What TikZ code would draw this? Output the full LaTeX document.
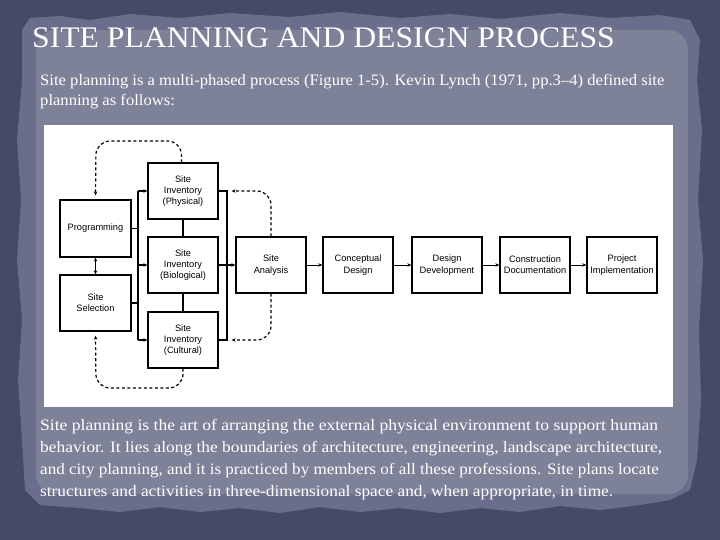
\documentclass[tikz,border=0pt]{standalone}
\usepackage{fontspec}
\setmainfont{Liberation Serif}
\newfontfamily\boxfont{Liberation Sans}
\usetikzlibrary{arrows.meta}
\definecolor{outerblue}{HTML}{454A69}
\definecolor{paperedge}{HTML}{6A6E8C}
\definecolor{paper}{HTML}{7E8299}
\tikzset{
  procbox/.style={draw=black, line width=1.3bp, fill=white, minimum width=70bp, minimum height=56bp,
    inner sep=1bp, align=center, font=\boxfont\fontsize{9.3}{11.3}\selectfont},
  solidcon/.style={line width=1.2bp},
  arr/.style={-{Stealth[length=4bp,width=3.5bp]}},
  thinarr/.style={line width=0.8bp, -{Stealth[length=4bp,width=3.5bp]}},
  dashcon/.style={line width=1.2bp, dash pattern=on 3bp off 2.5bp, rounded corners=14bp},
  titletext/.style={anchor=base west, inner sep=0, text=white, font=\fontsize{30}{30}\selectfont},
  bodytext/.style={anchor=base west, inner sep=0, text=white, font=\fontsize{16}{18}\selectfont},
}
\begin{document}
\begin{tikzpicture}[x=1bp, y=-1bp]
\useasboundingbox (0,0) rectangle (720,540);
% background
\fill[outerblue] (0,0) rectangle (720,540);
\fill[paperedge] (22,30) -- (30,18) -- (60,16) -- (90,20) -- (130,14) -- (180,18) -- (230,13) -- (290,17) -- (340,12) -- (400,18) -- (450,14) -- (500,19) -- (560,13) -- (610,18) -- (660,15) -- (690,20) -- (700,40) -- (697,80) -- (702,130) -- (698,200) -- (703,260) -- (699,330) -- (701,400) -- (697,460) -- (690,490) -- (670,500) -- (640,505) -- (600,510) -- (560,506) -- (520,512) -- (480,508) -- (440,513) -- (400,508) -- (360,512) -- (320,507) -- (280,513) -- (240,508) -- (200,512) -- (160,507) -- (120,512) -- (80,508) -- (40,505) -- (25,490) -- (22,440) -- (18,380) -- (22,320) -- (17,260) -- (21,200) -- (17,140) -- (22,80) -- cycle;
\fill[paper, rounded corners=20bp] (36,30) rectangle (688,494);
% title and text
\node[titletext] (title) at (32,48) {\scalebox{1.06}[1]{SITE PLANNING AND DESIGN PROCESS}};
\node[bodytext] (p1a) at (40,86) {\scalebox{1.042}[1]{Site planning is a multi-phased process (Figure 1-5). Kevin Lynch (1971, pp.3–4) defined site}};
\node[bodytext] (p1b) at (40,106) {\scalebox{1.042}[1]{planning as follows:}};
\node[bodytext] (p2a) at (40,430) {\scalebox{1.10}[1]{Site planning is the art of arranging the external physical environment to support human}};
\node[bodytext] (p2b) at (40,452) {\scalebox{1.09}[1]{behavior. It lies along the boundaries of architecture, engineering, landscape architecture,}};
\node[bodytext] (p2c) at (40,474) {\scalebox{1.07}[1]{and city planning, and it is practiced by members of all these professions. Site plans locate}};
\node[bodytext] (p2d) at (40,496) {\scalebox{1.085}[1]{structures and activities in three-dimensional space and, when appropriate, in time.}};
% white panel
\fill[white] (44,125) rectangle (673,407);
% boxes
\node[procbox, minimum width=71bp, minimum height=57bp] (prog) at (95.5,228.5) {Programming};
\node[procbox, minimum width=71bp] (sel) at (95.5,303) {Site\\Selection};
\node[procbox] (phys) at (183,191) {Site\\Inventory\\(Physical)};
\node[procbox] (bio) at (183,265) {Site\\Inventory\\(Biological)};
\node[procbox] (cult) at (183,340) {Site\\Inventory\\(Cultural)};
\node[procbox] (ana) at (271,265) {Site\\Analysis};
\node[procbox] (con) at (358,265) {Conceptual\\Design};
\node[procbox] (dev) at (447,265) {Design\\Development};
\node[procbox] (doc) at (535,265) {Construction\\Documentation};
\node[procbox] (imp) at (622,265) {Project\\Implementation};
% left bus
\coordinate (lbt) at (138,191);
\coordinate (lbm) at (138,265);
\coordinate (lbb) at (138,340);
\draw[solidcon] (lbt) -- (lbb);
\draw[solidcon] (prog.east) -- (prog.east -| lbt);
\draw[solidcon] (sel.east) -- (sel.east -| lbt);
\draw[solidcon, arr] (lbt) -- (phys.west);
\draw[solidcon, arr] (lbm) -- (bio.west);
\draw[solidcon, arr] (lbb) -- (cult.west);
\draw[solidcon, {Stealth[length=4bp,width=3.5bp]}-{Stealth[length=4bp,width=3.5bp]}] (prog.south) -- (sel.north);
% inventory links
\draw[solidcon] (phys.south) -- (bio.north);
\draw[solidcon] (bio.south) -- (cult.north);
% right bus
\coordinate (rbt) at (227,191);
\coordinate (rbb) at (227,340);
\draw[solidcon] (phys.east) -- (rbt) -- (rbb) -- (cult.east);
\draw[solidcon, arr] (bio.east) -- (ana.west);
% process chain
\draw[thinarr] (ana) -- (con);
\draw[thinarr] (con) -- (dev);
\draw[thinarr] (dev) -- (doc);
\draw[thinarr] (doc) -- (imp);
% dashed feedback
\draw[dashcon, arr, shorten >=4bp] ([xshift=-1.5bp]phys.north) -- (181.5,141) -- (96,141) -- (prog.north);
\draw[dashcon, arr, shorten >=4bp] (cult.south) -- (183,388) -- (96,388) -- (sel.south);
\draw[dashcon, arr, shorten >=13bp] (ana.north) -- (271,191) -- (phys.east);
\draw[dashcon, arr, shorten >=13bp] (ana.south) -- (271,340) -- (cult.east);
\end{tikzpicture}
\end{document}
